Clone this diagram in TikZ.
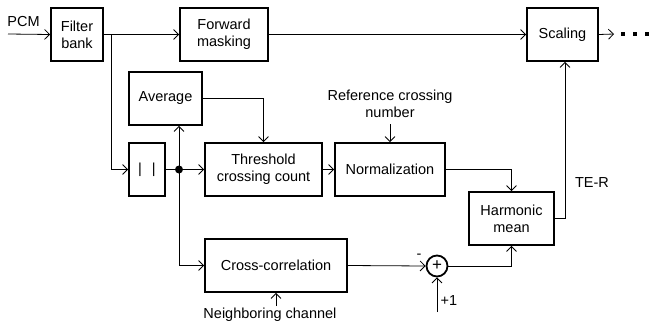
\documentclass[tikz,border=0pt]{standalone}
\usepackage{fontspec}
\setmainfont{Liberation Sans}
\usetikzlibrary{arrows.meta}
\begin{document}
\begin{tikzpicture}[x=1pt,y=-1pt,
  blk/.style={draw,line width=1.8pt,rectangle,minimum height=53pt,align=center,inner sep=0pt,
    font=\fontsize{14.5}{17}\selectfont},
  lbl/.style={align=center,inner sep=0pt,font=\fontsize{14.5}{17}\selectfont},
  con/.style={line width=0.8pt,-{Straight Barb[length=5pt,width=10pt,line width=0.8pt]}},
  wire/.style={line width=0.8pt}]
\useasboundingbox (0,0) rectangle (655,324);

% blocks
\node[blk,minimum width=52pt]  (fb)  at (77,34.5)    {Filter\\bank};
\node[blk,minimum width=88pt]  (fm)  at (224,34.5)   {Forward\\masking};
\node[blk,minimum width=71pt]  (sc)  at (562.5,34.5) {Scaling};
\node[blk,minimum width=73pt]  (avg) at (165.5,98.5) {Average};
\node[blk,minimum width=36pt]  (abs) at (147,169.5)  {|\hspace{10pt}|};
\node[blk,minimum width=117pt] (thr) at (263.5,169.5) {Threshold\\crossing count};
\node[blk,minimum width=110pt] (nor) at (390,169.5)  {Normalization};
\node[blk,minimum width=85pt]  (hm)  at (511.5,218.5) {Harmonic\\mean};
\node[blk,minimum width=142pt] (cc)  at (276,265.5)  {Cross-correlation};
\node[draw,circle,line width=1.8pt,minimum size=21pt,inner sep=0pt,
  font=\fontsize{17}{17}\selectfont] (sum) at (437,266) {+};

% labels
\node[lbl] (pcm) at (23.5,22) {PCM};
\node[lbl] (ref) at (390,104) {Reference crossing\\number};
\node[lbl] (ter) at (592,183) {TE-R};
\node[lbl] (neg) at (419,256) {-};
\node[lbl] (one) at (449,301) {+1};
\node[lbl] (nbr) at (270,315) {Neighboring channel};

% free ends and bends
\coordinate (in)   at (8,34);
\coordinate (br)   at (111,34);
\coordinate (dot)  at (179,169.5);
\coordinate (refa) at (390,124);
\coordinate (onea) at (437,312);
\coordinate (nbra) at (276,306);
\coordinate (out)  at (614,34);
\coordinate (hmx)  at (565,218.5);

% connectors
\draw[con] (in) -- (fb.west);
\draw[con] (fb.east) -- (fm.west);
\draw[con] (br) |- (abs.west);
\draw[con] (fm.east) -- (sc.west);
\draw[con] (sc.east) -- (out);
\draw[con] (abs.east) -- (thr.west);
\draw[con] (dot) -- (dot |- avg.south);
\draw[con] (dot) |- (cc.west);
\draw[con] (avg.east) -| (thr.north);
\draw[con] (refa) -- (nor.north);
\draw[con] (thr.east) -- (nor.west);
\draw[con] (nor.east) -| (hm.north);
\draw[con] (cc.east) -- (sum.west);
\draw[con] (onea) -- (sum.south);
\draw[con] (sum.east) -| (hm.south);
\draw[con] (nbra) -- (cc.south);
\draw[wire] (hm.east) -- (hmx);
\draw[con] (hmx) -- (hmx |- sc.south);
\fill (dot) circle (4pt);

% continuation dots
\foreach \px in {623,635,647} \fill (\px-2,32) rectangle (\px+2,36);
\end{tikzpicture}
\end{document}
